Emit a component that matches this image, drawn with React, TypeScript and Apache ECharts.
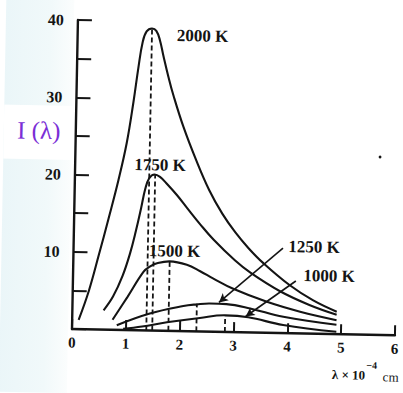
import React, { useEffect, useRef } from 'react';
import * as echarts from 'echarts';

// Wavelength (x 10^-4 cm) and intensity readings for each black-body curve
const curve2000K: number[][] = [
  [0.12, 1.2], [0.3, 5.0], [0.47, 9.6], [0.64, 14.4], [0.81, 19.4], [0.95, 24.2],
  [1.06, 29.5], [1.14, 34.0], [1.21, 37.3], [1.28, 38.7], [1.38, 39.1], [1.46, 38.8],
  [1.53, 37.6], [1.6, 35.6], [1.7, 32.9], [1.8, 30.5], [2.0, 26.4], [2.25, 22.1],
  [2.5, 18.3], [2.75, 15.3], [3.0, 12.9], [3.25, 10.9], [3.53, 9.0], [4.03, 6.2],
  [4.47, 4.3], [4.91, 2.9],
];
const curve1750K: number[][] = [
  [0.58, 2.5], [0.75, 4.3], [0.92, 7.0], [1.05, 9.9], [1.15, 12.8], [1.24, 15.8],
  [1.31, 18.3], [1.38, 19.7], [1.48, 20.2], [1.58, 19.9], [1.7, 19.1], [1.9, 17.6],
  [2.1, 15.9], [2.34, 13.9], [2.6, 11.9], [3.0, 9.3], [3.3, 7.7], [3.85, 5.4],
  [4.4, 3.7], [4.91, 2.5],
];
const curve1500K: number[][] = [
  [0.75, 1.3], [1.02, 4.3], [1.31, 7.6], [1.43, 8.3], [1.57, 8.75], [1.79, 9.0],
  [2.11, 8.6], [2.36, 7.8], [2.6, 6.9], [2.98, 5.6], [3.61, 4.0], [4.23, 2.8], [4.91, 1.8],
];
const curve1250K: number[][] = [
  [0.83, 0.6], [1.44, 2.2], [2.06, 3.25], [2.31, 3.5], [2.55, 3.65], [2.86, 3.6],
  [3.3, 3.1], [3.92, 2.1], [4.91, 1.2],
];
const curve1000K: number[][] = [
  [0.95, 0.15], [1.3, 0.5], [1.76, 1.1], [2.37, 1.75], [2.84, 2.15], [3.27, 1.95],
  [3.92, 1.05], [4.91, 0.3],
];

const temperatures = ['2000 K', '1750 K', '1500 K', '1250 K', '1000 K'];
const curves = [curve2000K, curve1750K, curve1500K, curve1250K, curve1000K];

// Dashed lines marking each maximum
const peakLambda = [1.38, 1.49, 1.79, 2.31, 2.84];
const peakIntensity = [39.1, 20.2, 9.0, 3.5, 2.15];

// Pointer arrows for the 1250 K and 1000 K labels (start, tip)
const pointer1250K: number[][] = [[3.89, 11.0], [2.72, 3.8]];
const pointer1000K: number[][] = [[4.14, 6.77], [3.22, 2.05]];

const yTickLabels = [10, 20, 30, 40];
const xTickLabels = [0, 1, 2, 3, 4, 5, 6];

const INK = '#141414';
const SERIF = '"Liberation Serif", "DejaVu Serif", serif';

export default function App() {
  const ref = useRef<HTMLDivElement>(null);

  useEffect(() => {
    if (!ref.current) return;
    const chart = echarts.init(ref.current, null, { renderer: 'svg' });

    const curveSeries = curves.map((data, i) => ({
      name: temperatures[i],
      type: 'line',
      data,
      smooth: 0.4,
      symbol: 'none',
      lineStyle: { color: INK, width: 2.1 },
      z: 3,
      markLine:
        i === 3 || i === 4
          ? {
              silent: true,
              symbol: ['none', 'arrow'],
              symbolSize: [7, 9],
              lineStyle: { color: INK, width: 1.6, type: 'solid' },
              label: { show: false },
              data: [
                [
                  { coord: (i === 3 ? pointer1250K : pointer1000K)[0] },
                  { coord: (i === 3 ? pointer1250K : pointer1000K)[1] },
                ],
              ],
            }
          : undefined,
    }));

    const dashedSeries = peakLambda.map((l, i) => ({
      name: 'peak ' + temperatures[i],
      type: 'line',
      data: [
        [l, 0],
        [l, peakIntensity[i]],
      ],
      symbol: 'none',
      lineStyle: { color: INK, width: 1.8, type: [5, 3] },
      z: 2,
    }));

    const labelPos = [
      [197, 33.5],
      [157, 163.3],
      [173, 249.1],
      [312.5, 242.4],
      [328, 271.1],
    ];

    const textStyle = (text: string, size: number, weight: string = 'bold', align: string = 'center') => ({
      text,
      fontSize: size,
      fontFamily: SERIF,
      fontWeight: weight,
      fill: INK,
      align,
      verticalAlign: 'middle',
    });

    chart.setOption({
      animation: false,
      backgroundColor: 'transparent',
      grid: { left: 72, top: 20, width: 323, height: 309 },
      xAxis: {
        type: 'value',
        min: 0,
        max: 6,
        interval: 1,
        axisLine: { show: true, onZero: false, lineStyle: { color: INK, width: 2.4 } },
        axisTick: { show: true, inside: true, length: 10, lineStyle: { color: INK, width: 2 } },
        axisLabel: {
          margin: 6,
          color: INK,
          fontSize: 15,
          fontWeight: 'bold',
          fontFamily: SERIF,
          formatter: (v: number) => (xTickLabels.includes(v) ? String(v) : ''),
        },
        splitLine: { show: false },
      },
      yAxis: {
        type: 'value',
        min: 0,
        max: 40,
        interval: 5,
        axisLine: { show: true, lineStyle: { color: INK, width: 2.4 } },
        axisTick: { show: true, inside: true, length: 14, lineStyle: { color: INK, width: 2 } },
        axisLabel: {
          margin: 14,
          color: INK,
          fontSize: 16,
          fontWeight: 'bold',
          fontFamily: SERIF,
          formatter: (v: number) => (yTickLabels.includes(v) ? String(v) : ''),
        },
        splitLine: { show: false },
      },
      graphic: [
        {
          type: 'rect',
          silent: true,
          z: -10,
          shape: { x: -10, y: -10, width: 78, height: 420 },
          style: {
            fill: new echarts.graphic.LinearGradient(0, 0, 1, 0, [
              { offset: 0, color: '#e9f5f8' },
              { offset: 0.7, color: '#f1f9fa' },
              { offset: 1, color: '#fbfdfd' },
            ]),
          },
        },
        {
          type: 'rect',
          silent: true,
          z: -9,
          shape: { x: -10, y: 106, width: 82, height: 54 },
          style: { fill: '#ffffff' },
        },
        {
          type: 'text',
          x: 35,
          y: 131,
          style: {
            text: 'I (λ)',
            fontSize: 25,
            fontFamily: SERIF,
            fill: '#7b2fd6',
            align: 'center',
            verticalAlign: 'middle',
          },
        },
        ...temperatures.map((t, i) => ({
          type: 'text',
          x: labelPos[i][0],
          y: labelPos[i][1],
          z: 10,
          style: textStyle(t, 17),
        })),
        {
          type: 'text',
          x: 366,
          y: 369.6,
          style: textStyle('λ × 10', 13, 'bold', 'right'),
        },
        {
          type: 'text',
          x: 367,
          y: 359.5,
          style: textStyle('−4', 10, 'bold', 'left'),
        },
        {
          type: 'text',
          x: 391.5,
          y: 370.9,
          style: textStyle('cm', 13, 'normal'),
        },
        {
          type: 'circle',
          silent: true,
          shape: { cx: 376.7, cy: 151.1, r: 1.4 },
          style: { fill: INK },
        },
      ],
      series: [...curveSeries, ...dashedSeries],
    });

    return () => chart.dispose();
  }, []);

  return (
    <div
      ref={ref}
      style={{
        position: 'absolute',
        left: 0,
        top: 0,
        width: 403,
        height: 393,
        transform: 'rotate(1.1deg)',
        transformOrigin: '72px 329px',
      }}
    />
  );
}
